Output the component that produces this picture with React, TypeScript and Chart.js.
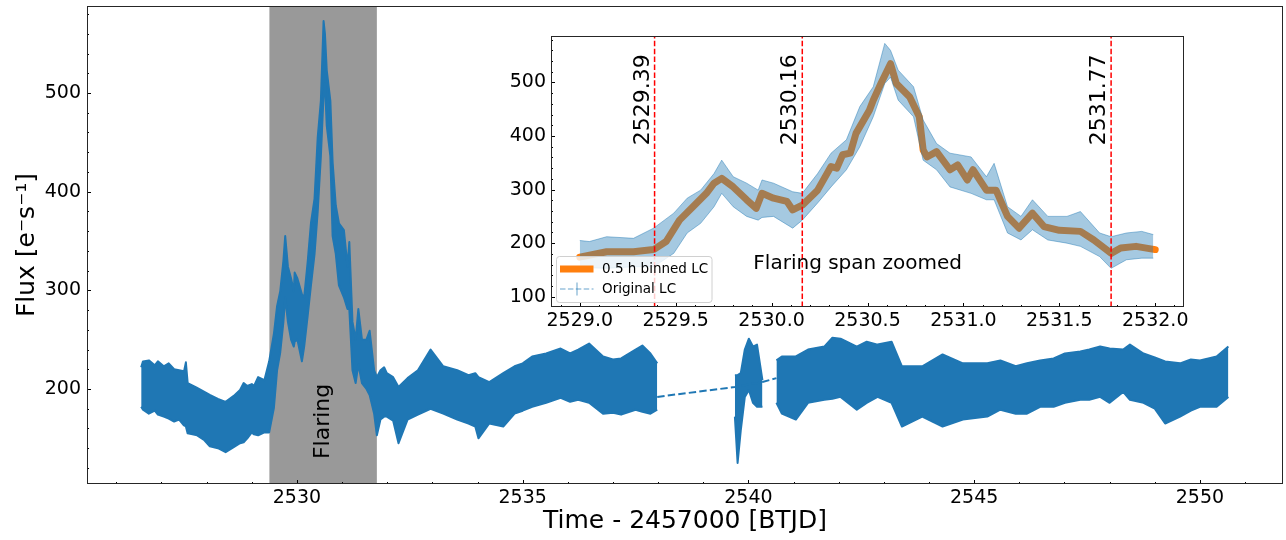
import React, { useEffect, useRef } from "react";
import { Chart, registerables } from "chart.js";

Chart.register(...registerables);

const FONT = "'DejaVu Sans', 'Liberation Sans', sans-serif";
const BLUE = "#1f77b4";
const ORANGE = "#ff7f0e";

// ---- light curve envelope (upper / lower edge of the noisy band), BTJD ----
const lcTime = [
  2526.55, 2526.59, 2526.72, 2526.85, 2526.92, 2527.05, 2527.16, 2527.28, 2527.39, 2527.5,
  2527.54, 2527.58, 2527.79, 2527.95, 2528.07, 2528.25, 2528.42, 2528.6, 2528.74, 2528.82,
  2528.9, 2529.0, 2529.05, 2529.14, 2529.28, 2529.385, 2529.49, 2529.56, 2529.63, 2529.7,
  2529.74, 2529.8, 2529.87, 2529.93, 2529.95, 2530.01, 2530.11, 2530.16, 2530.24, 2530.31,
  2530.39, 2530.46, 2530.53, 2530.59, 2530.62, 2530.66, 2530.74, 2530.79, 2530.86, 2530.93,
  2531.04, 2531.12, 2531.16, 2531.23, 2531.3, 2531.36, 2531.44, 2531.54, 2531.61, 2531.71,
  2531.77, 2531.85, 2531.93, 2531.99, 2532.13, 2532.25, 2532.45, 2532.68, 2532.96, 2533.24,
  2533.55, 2533.8, 2533.95, 2534.02, 2534.26, 2534.57, 2534.82, 2535.0, 2535.21, 2535.52,
  2535.84, 2536.05, 2536.23, 2536.47, 2536.78, 2537.0, 2537.18, 2537.5, 2537.65, 2537.83,
  2537.98,
  2539.7, 2539.76, 2539.83, 2539.92, 2540.01, 2540.1, 2540.19, 2540.31,
  2540.62, 2540.74, 2541.05, 2541.32, 2541.68, 2541.86, 2542.04, 2542.4, 2542.62, 2542.86,
  2543.17, 2543.4, 2543.85, 2544.3, 2544.75, 2545.29, 2545.58, 2545.92, 2546.17, 2546.46,
  2546.76, 2547.01, 2547.35, 2547.55, 2547.79, 2548.0, 2548.3, 2548.45, 2548.75, 2549.0,
  2549.23, 2549.56, 2549.8, 2550.0, 2550.37, 2550.63,
];
const lcUpper = [
  222, 228, 229, 224, 228, 223, 226, 220, 219, 218,
  227, 206, 201, 197, 194, 190, 187, 193, 199, 206,
  203, 205, 203, 212, 209, 228, 256, 284, 299, 330,
  355, 324, 312, 299, 318, 312, 296, 293, 330, 368,
  393, 455, 492, 573, 560, 523, 492, 430, 386, 368,
  361, 324, 349, 268, 250, 281, 250, 250, 259, 219,
  212, 219, 222, 216, 212, 202, 211, 219, 240, 223,
  219, 214, 216, 212, 207, 216, 223, 226, 233, 236,
  241, 236, 240, 246, 233, 230, 231, 240, 244, 236,
  226,
  214, 214, 216, 240, 251, 243, 245, 209,
  229, 233, 233, 240, 243, 252, 251, 243, 248, 245,
  248, 223, 223, 235, 226, 226, 229, 223, 226, 229,
  231, 236, 238, 240, 243, 241, 240, 245, 236, 232,
  228, 226, 230, 229, 233, 243,
];
const lcLower = [
  182, 179, 175, 178, 174, 172, 170, 167, 169, 163,
  162, 155, 153, 148, 142, 140, 136, 141, 145, 146,
  150, 156, 154, 153, 156, 156, 181, 219, 237, 268,
  293, 268, 250, 243, 248, 250, 228, 243, 275, 305,
  337, 380, 436, 498, 510, 467, 436, 355, 337, 305,
  293, 281, 281, 219, 206, 225, 206, 200, 194, 175,
  153, 169, 172, 172, 168, 145, 169, 174, 180, 175,
  169, 165, 162, 150, 165, 162, 175, 178, 182, 186,
  191, 187, 189, 186, 175, 176, 174, 179, 177, 175,
  179,
  172, 125, 158, 192, 199, 186, 182, 182,
  186, 175, 169, 186, 189, 190, 192, 179, 186, 192,
  186, 162, 172, 162, 169, 172, 179, 175, 175, 182,
  182, 186, 189, 189, 192, 186, 197, 189, 186, 180,
  165, 172, 178, 182, 182, 192,
];
// first time of each observing segment
const segmentStarts = [2526.55, 2539.7, 2540.62];

// dashed connecting line across the data gaps
const gapLineTime = [2537.98, 2539.7, 2540.31, 2540.62];
const gapLineFlux = [192, 202, 207, 211];

// flare span
const flareSpan = [2529.39, 2531.77];
const flareLabelPos = [2530.707, 129];

// ---- inset: 0.5 h binned light curve ----
const binTime = [
  2529.0, 2529.14, 2529.28, 2529.385, 2529.45, 2529.52, 2529.59, 2529.66, 2529.7, 2529.74,
  2529.8, 2529.87, 2529.92, 2529.95, 2530.01, 2530.08, 2530.11, 2530.16, 2530.24, 2530.31,
  2530.34, 2530.37, 2530.41, 2530.44, 2530.51, 2530.53, 2530.57, 2530.62, 2530.65, 2530.72,
  2530.77, 2530.79, 2530.81, 2530.86, 2530.93, 2530.97, 2531.02, 2531.05, 2531.12, 2531.17,
  2531.23, 2531.29, 2531.36, 2531.42, 2531.5, 2531.61, 2531.68, 2531.77, 2531.82, 2531.9,
  2532.0,
];
const binFlux = [
  174, 184, 184, 188, 203, 243, 268, 293, 312, 321,
  305, 281, 265, 293, 284, 278, 262, 271, 299, 343,
  340, 365, 368, 405, 448, 467, 498, 535, 498, 473,
  436, 374, 361, 371, 337, 346, 318, 337, 299, 299,
  250, 228, 256, 231, 224, 222, 206, 181, 191, 194,
  188,
];
const insetDataRange = [2529.0, 2532.0];
const zoomMarks = [2529.39, 2530.16, 2531.77];
const zoomMarkLabels = ["2529.39", "2530.16", "2531.77"];
const markLabelFlux = 383;
const spanTextPos = [2529.905, 151];

// axes
const mainXRange = [2525.35, 2551.84];
const mainYRange = [103.7, 588.2];
const mainXTicks = [2530, 2535, 2540, 2545, 2550];
const mainYTicks = [200, 300, 400, 500];
const insetXRange = [2528.85, 2532.15];
const insetYRange = [80.8, 586.8];
const insetXTicks = [2529.0, 2529.5, 2530.0, 2530.5, 2531.0, 2531.5, 2532.0];
const insetYTicks = [100, 200, 300, 400, 500];

function buildSegments(lo: number, hi: number): number[][] {
  const segs: number[][] = segmentStarts.map(() => []);
  lcTime.forEach((t, i) => {
    if (t < lo - 1e-9 || t > hi + 1e-9) return;
    let s = 0;
    for (let k = 0; k < segmentStarts.length; k++) if (t >= segmentStarts[k] - 1e-9) s = k;
    segs[s].push(i);
  });
  return segs.filter((s) => s.length > 0);
}

function bandDatasets(border: string, fillColor: string, width: number, lo: number, hi: number) {
  return buildSegments(lo, hi).flatMap((idx) => [
    {
      data: idx.map((i) => ({ x: lcTime[i], y: lcLower[i] })),
      borderColor: border,
      borderWidth: width,
      borderJoinStyle: "round",
      pointRadius: 0,
      fill: false,
    },
    {
      data: idx.map((i) => ({ x: lcTime[i], y: lcUpper[i] })),
      borderColor: border,
      borderWidth: width,
      borderJoinStyle: "round",
      pointRadius: 0,
      backgroundColor: fillColor,
      fill: "-1",
    },
  ]);
}

// matplotlib-like frame + inward ticks
const mplAxes = {
  id: "mplAxes",
  beforeDatasetsDraw(chart: any, _a: any, opts: any) {
    if (!opts.background) return;
    const { ctx, chartArea: a } = chart;
    ctx.save();
    ctx.fillStyle = opts.background;
    ctx.fillRect(a.left, a.top, a.right - a.left, a.bottom - a.top);
    ctx.restore();
  },
  afterDatasetsDraw(chart: any, _a: any, opts: any) {
    const { ctx, chartArea: a, scales } = chart;
    const x = scales.x;
    const y = scales.y;
    ctx.save();
    ctx.strokeStyle = "#000";
    ctx.lineWidth = 1;
    const vt = (px: number, len: number) => {
      const p = Math.round(px) + 0.5;
      ctx.beginPath();
      ctx.moveTo(p, a.bottom);
      ctx.lineTo(p, a.bottom - len);
      ctx.stroke();
    };
    const ht = (py: number, len: number) => {
      const p = Math.round(py) + 0.5;
      ctx.beginPath();
      ctx.moveTo(a.left, p);
      ctx.lineTo(a.left + len, p);
      ctx.stroke();
    };
    const minors = (s: any, step: number) => {
      const out: number[] = [];
      for (let k = Math.ceil(s.min / step - 1e-9); k * step <= s.max + 1e-9; k++) out.push(k * step);
      return out;
    };
    minors(x, opts.xMinor).forEach((v) => vt(x.getPixelForValue(v), opts.minorLen));
    x.ticks.forEach((t: any) => vt(x.getPixelForValue(t.value), opts.majorLen));
    minors(y, opts.yMinor).forEach((v) => ht(y.getPixelForValue(v), opts.minorLen));
    y.ticks.forEach((t: any) => ht(y.getPixelForValue(t.value), opts.majorLen));
    ctx.strokeStyle = "#262626";
    ctx.lineWidth = 1;
    ctx.strokeRect(
      Math.round(a.left) + 0.5,
      Math.round(a.top) + 0.5,
      Math.round(a.right) - Math.round(a.left) - 1,
      Math.round(a.bottom) - Math.round(a.top) - 1
    );
    ctx.restore();
  },
};

const mainOverlay = {
  id: "mainOverlay",
  beforeDatasetsDraw(chart: any) {
    const { ctx, chartArea: a, scales } = chart;
    const x0 = scales.x.getPixelForValue(flareSpan[0]);
    const x1 = scales.x.getPixelForValue(flareSpan[1]);
    ctx.save();
    ctx.fillStyle = "rgba(128,128,128,0.8)";
    ctx.fillRect(x0, a.top, x1 - x0, a.bottom - a.top);
    ctx.restore();
  },
  afterDatasetsDraw(chart: any) {
    const { ctx, scales } = chart;
    ctx.save();
    ctx.translate(scales.x.getPixelForValue(flareLabelPos[0]), scales.y.getPixelForValue(flareLabelPos[1]));
    ctx.rotate(-Math.PI / 2);
    ctx.font = `22px ${FONT}`;
    ctx.fillStyle = "#000";
    ctx.textAlign = "left";
    ctx.textBaseline = "alphabetic";
    ctx.fillText("Flaring", 0, 0);
    ctx.restore();
  },
};

const insetOverlay = {
  id: "insetOverlay",
  afterDatasetsDraw(chart: any) {
    const { ctx, chartArea: a, scales } = chart;
    const x = scales.x;
    const y = scales.y;
    ctx.save();
    ctx.fillStyle = "#000";
    ctx.font = `22px ${FONT}`;
    zoomMarks.forEach((t, i) => {
      ctx.save();
      ctx.translate(x.getPixelForValue(t) - 6, y.getPixelForValue(markLabelFlux));
      ctx.rotate(-Math.PI / 2);
      ctx.textAlign = "left";
      ctx.textBaseline = "alphabetic";
      ctx.fillText(zoomMarkLabels[i], 0, 0);
      ctx.restore();
    });
    ctx.font = `20px ${FONT}`;
    ctx.textAlign = "left";
    ctx.textBaseline = "alphabetic";
    ctx.fillText("Flaring span zoomed", x.getPixelForValue(spanTextPos[0]), y.getPixelForValue(spanTextPos[1]));

    // legend (lower left)
    const lx = a.left + 5.5;
    const ly = a.bottom - 50.5;
    const lw = 155.5;
    const lh = 46;
    ctx.beginPath();
    ctx.roundRect(lx, ly, lw, lh, 3);
    ctx.fillStyle = "rgba(255,255,255,0.8)";
    ctx.fill();
    ctx.strokeStyle = "#d0d0d0";
    ctx.lineWidth = 1;
    ctx.stroke();
    ctx.strokeStyle = ORANGE;
    ctx.lineWidth = 7;
    ctx.beginPath();
    ctx.moveTo(lx + 3.5, ly + 12.5);
    ctx.lineTo(lx + 37, ly + 12.5);
    ctx.stroke();
    ctx.strokeStyle = "rgba(31,119,180,0.45)";
    ctx.lineWidth = 1.5;
    ctx.setLineDash([5.5, 2.4]);
    ctx.beginPath();
    ctx.moveTo(lx + 3.5, ly + 32.5);
    ctx.lineTo(lx + 37, ly + 32.5);
    ctx.stroke();
    ctx.setLineDash([]);
    ctx.beginPath();
    ctx.moveTo(lx + 20.5, ly + 26);
    ctx.lineTo(lx + 20.5, ly + 39);
    ctx.stroke();
    ctx.fillStyle = "#000";
    ctx.font = `13.5px ${FONT}`;
    ctx.textBaseline = "middle";
    ctx.fillText("0.5 h binned LC", lx + 45.5, ly + 12.5);
    ctx.fillText("Original LC", lx + 45.5, ly + 32.5);
    ctx.restore();
  },
};

function axisCommon(tickValues: number[], fmt: (v: number) => string, padding: number) {
  return {
    type: "linear" as const,
    grid: { display: false, drawTicks: false },
    border: { display: false },
    afterBuildTicks: (s: any) => {
      s.ticks = tickValues.map((v) => ({ value: v }));
    },
    ticks: {
      autoSkip: false,
      maxRotation: 0,
      minRotation: 0,
      padding,
      color: "#000",
      font: { size: 19, family: FONT },
      callback: (v: any) => fmt(Number(v)),
    },
  };
}

export default function App() {
  const mainRef = useRef<HTMLCanvasElement>(null);
  const insetRef = useRef<HTMLCanvasElement>(null);

  useEffect(() => {
    document.body.style.margin = "0";
    Chart.defaults.font.family = FONT;
    Chart.defaults.color = "#000";

    const fitX = (h: number) => (s: any) => {
      s.height = h;
      s.paddingLeft = 0;
      s.paddingRight = 0;
      s.paddingTop = 0;
      s.paddingBottom = 0;
    };
    const fitY = (w: number) => (s: any) => {
      s.width = w;
      s.paddingLeft = 0;
      s.paddingRight = 0;
      s.paddingTop = 0;
      s.paddingBottom = 0;
    };

    const main = new Chart(mainRef.current as HTMLCanvasElement, {
      type: "line",
      data: {
        datasets: [
          {
            data: gapLineTime.map((t, i) => ({ x: t, y: gapLineFlux[i] })),
            borderColor: BLUE,
            borderWidth: 2,
            borderDash: [7.4, 3.2],
            pointRadius: 0,
            fill: false,
          },
          ...bandDatasets(BLUE, BLUE, 2, -Infinity, Infinity),
        ] as any,
      },
      options: {
        responsive: false,
        animation: false,
        devicePixelRatio: 1,
        layout: { padding: { left: 0, right: 3, top: 6, bottom: 0 } },
        plugins: {
          legend: { display: false },
          tooltip: { enabled: false },
          mplAxes: { xMinor: 1, yMinor: 20, majorLen: 4, minorLen: 2 },
        } as any,
        scales: {
          x: {
            ...axisCommon(mainXTicks, (v) => String(v), 3),
            min: mainXRange[0],
            max: mainXRange[1],
            afterFit: fitX(56),
            title: {
              display: true,
              text: "Time - 2457000 [BTJD]",
              color: "#000",
              font: { size: 25, family: FONT },
              padding: { top: 0, bottom: 4 },
            },
          },
          y: {
            ...axisCommon(mainYTicks, (v) => String(v), 6),
            min: mainYRange[0],
            max: mainYRange[1],
            afterFit: fitY(87),
            title: {
              display: true,
              text: "Flux [e\u207Bs\u207B\u00B9]",
              color: "#000",
              font: { size: 25, family: FONT },
              padding: { top: 12, bottom: 0 },
            },
          },
        } as any,
      },
      plugins: [mainOverlay, mplAxes],
    });

    const redLines = zoomMarks.map((t) => ({
      data: [
        { x: t, y: insetYRange[0] },
        { x: t, y: insetYRange[1] },
      ],
      borderColor: "#ff0000",
      borderWidth: 1.5,
      borderDash: [5.5, 2.4],
      pointRadius: 0,
      fill: false,
    }));

    const inset = new Chart(insetRef.current as HTMLCanvasElement, {
      type: "line",
      data: {
        datasets: [
          ...redLines,
          ...bandDatasets(
            "rgba(31,119,180,0.45)",
            "rgba(31,119,180,0.4)",
            1,
            insetDataRange[0],
            insetDataRange[1]
          ),
          {
            data: binTime.map((t, i) => ({ x: t, y: binFlux[i] })),
            borderColor: ORANGE,
            borderWidth: 7,
            borderJoinStyle: "round",
            borderCapStyle: "round",
            pointRadius: 0,
            fill: false,
          },
        ] as any,
      },
      options: {
        responsive: false,
        animation: false,
        devicePixelRatio: 1,
        layout: { padding: { left: 0, right: 16, top: 16, bottom: 0 } },
        plugins: {
          legend: { display: false },
          tooltip: { enabled: false },
          mplAxes: { xMinor: 0.1, yMinor: 20, majorLen: 4, minorLen: 2, background: "#ffffff" },
        } as any,
        scales: {
          x: {
            ...axisCommon(insetXTicks, (v) => v.toFixed(1), 3),
            min: insetXRange[0],
            max: insetXRange[1],
            afterFit: fitX(38),
          },
          y: {
            ...axisCommon(insetYTicks, (v) => String(v), 5),
            min: insetYRange[0],
            max: insetYRange[1],
            afterFit: fitY(61),
          },
        } as any,
      },
      plugins: [mplAxes, insetOverlay],
    });

    return () => {
      main.destroy();
      inset.destroy();
    };
  }, []);

  return (
    <div style={{ position: "relative", width: 1286, height: 540, background: "#fff" }}>
      <canvas ref={mainRef} width={1286} height={540} style={{ display: "block" }} />
      <canvas
        ref={insetRef}
        width={710}
        height={325}
        style={{ position: "absolute", left: 490, top: 20 }}
      />
    </div>
  );
}
